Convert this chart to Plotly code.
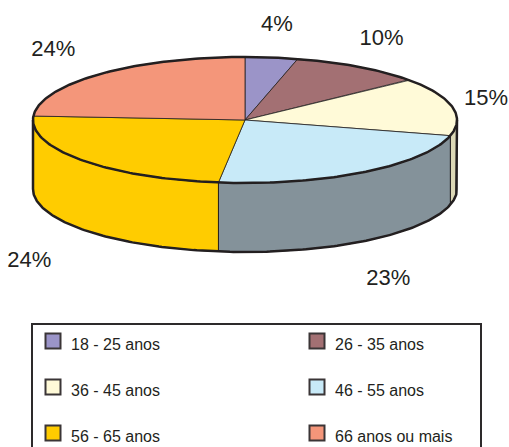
import numpy as np
import plotly.graph_objects as go

# ---- data ----
categories = ["18 - 25 anos", "26 - 35 anos", "36 - 45 anos",
              "46 - 55 anos", "56 - 65 anos", "66 anos ou mais"]
values = [4, 10, 15, 23, 24, 24]
top_colors = ["#9b94c8", "#a37073", "#fffad8", "#c8eaf8", "#ffcc00", "#f4967a"]
side_colors = ["#7d77a6", "#87595c", "#dcd8b6", "#84929a", "#ffcc00", "#d57c62"]

# ---- geometry (pixel space) ----
W, H = 509, 447
CX, CY, RX, RY, DEPTH = 245, 120, 212, 63, 69
DARK = "#231f20"

def ell(t, dy=0.0):
    return CX + RX * np.sin(t), CY - RY * np.cos(t) + dy

fracs = np.array(values, dtype=float) / sum(values)
bounds = np.concatenate([[0], np.cumsum(fracs)]) * 2 * np.pi

fig = go.Figure()

# side faces (front half: pi/2 .. 3pi/2)
for i in range(len(values)):
    a, b = max(bounds[i], np.pi / 2), min(bounds[i + 1], 3 * np.pi / 2)
    if b <= a:
        continue
    t = np.linspace(a, b, 80)
    xt, yt = ell(t)
    xb, yb = ell(t[::-1], DEPTH)
    fig.add_trace(go.Scatter(
        x=np.concatenate([xt, xb, xt[:1]]), y=np.concatenate([yt, yb, yt[:1]]),
        mode="lines", fill="toself", fillcolor=side_colors[i],
        line=dict(color=DARK, width=1), hoverinfo="skip", showlegend=False))

# outer outline of the side
t = np.linspace(np.pi / 2, 3 * np.pi / 2, 200)
xb, yb = ell(t, DEPTH)
xr0, yr0 = ell(np.array([np.pi / 2]))
xl0, yl0 = ell(np.array([3 * np.pi / 2]))
fig.add_trace(go.Scatter(
    x=np.concatenate([xr0, xb, xl0]), y=np.concatenate([yr0, yb, yl0]),
    mode="lines", line=dict(color=DARK, width=2.5), hoverinfo="skip", showlegend=False))

# top slices
for i in range(len(values)):
    t = np.linspace(bounds[i], bounds[i + 1], 120)
    xt, yt = ell(t)
    fig.add_trace(go.Scatter(
        x=np.concatenate([[CX], xt, [CX]]), y=np.concatenate([[CY], yt, [CY]]),
        mode="lines", fill="toself", fillcolor=top_colors[i],
        line=dict(color=DARK, width=0.8), name=categories[i],
        hovertemplate=f"{categories[i]}: {values[i]}%<extra></extra>", showlegend=False))

# top ellipse outline
t = np.linspace(0, 2 * np.pi, 400)
xt, yt = ell(t)
fig.add_trace(go.Scatter(x=xt, y=yt, mode="lines", line=dict(color=DARK, width=2.5),
                         hoverinfo="skip", showlegend=False))

# percentage labels
lx, ly, lt = [], [], []
for i, v in enumerate(values):
    m = (bounds[i] + bounds[i + 1]) / 2
    s, c = np.sin(m), np.cos(m)
    x = min(CX + (255 if s > 0 else 280) * s, W - 23)
    y = CY - 95 * c + (DEPTH + 12 if c < 0 else 0)
    lx.append(x); ly.append(y); lt.append(f"{v}%")
fig.add_trace(go.Scatter(x=lx, y=ly, mode="text", text=lt,
                         textfont=dict(family="Liberation Sans, Arial", size=22, color=DARK),
                         hoverinfo="skip", showlegend=False))

# legend (two columns, three rows)
col_x = [53, 317]
row_y = [341, 387, 433]
sx, sy = [], []
for i, cat in enumerate(categories):
    x = col_x[i % 2]; y = row_y[i // 2]
    sx.append(x); sy.append(y)
    fig.add_annotation(x=x + 16, y=y + 3, text=cat, showarrow=False, xanchor="left",
                       yanchor="middle", font=dict(family="Liberation Sans, Arial", size=16, color=DARK))
fig.add_trace(go.Scatter(x=sx, y=sy, mode="markers",
                         marker=dict(symbol="square", size=15, color=top_colors,
                                     line=dict(color="#3a3536", width=2)),
                         hoverinfo="skip", showlegend=False))
fig.add_shape(type="rect", x0=32, x1=481, y0=324, y1=470,
              line=dict(color="#2d2a2b", width=2), layer="below")

fig.update_xaxes(range=[0, W], visible=False, fixedrange=True)
fig.update_yaxes(range=[H, 0], visible=False, fixedrange=True)
fig.update_layout(width=W, height=H, margin=dict(l=0, r=0, t=0, b=0),
                  plot_bgcolor="white", paper_bgcolor="white", showlegend=False)

fig.write_html("out.html")
